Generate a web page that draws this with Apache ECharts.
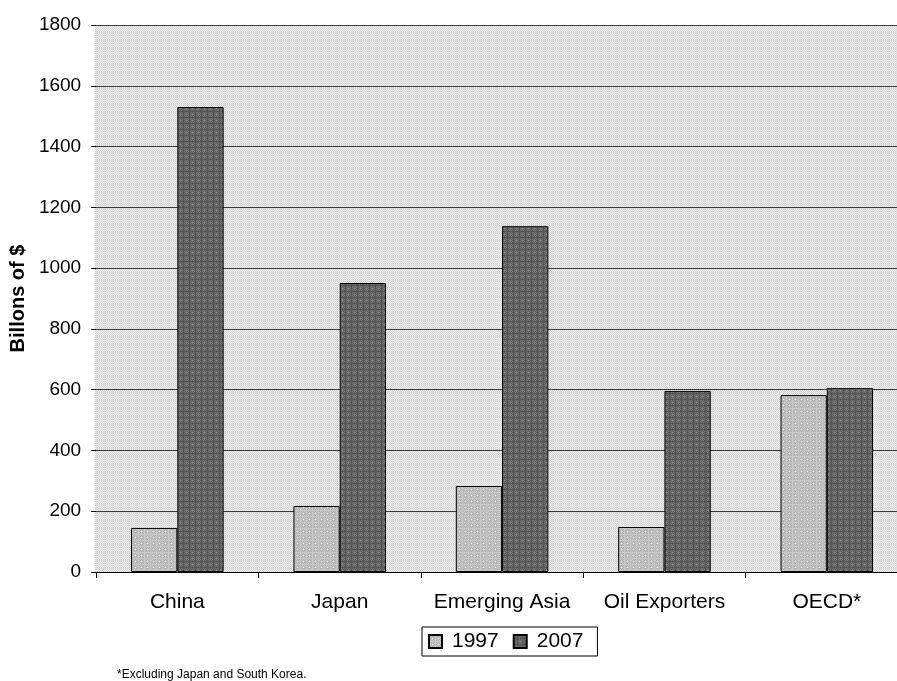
<!DOCTYPE html>
<html>
<head>
<meta charset="utf-8">
<script src="https://cdn.jsdelivr.net/npm/echarts@6/dist/echarts.min.js"></script>
<style>
  html, body { margin: 0; padding: 0; background: #ffffff; overflow: hidden; }
  #chart { width: 908px; height: 681px; }
</style>
</head>
<body>
<div id="chart"></div>
<script>
// Reserve holdings by region, billions of dollars
const categories = ['China', 'Japan', 'Emerging Asia', 'Oil Exporters', 'OECD*'];
const values1997 = [145, 217, 283, 148, 582];
const values2007 = [1530, 951, 1138, 596, 605];
const seriesNames = ['1997', '2007'];
const yTicks = { min: 0, max: 1800, interval: 200 };
const footnote = '*Excluding Japan and South Korea.';

// Small tiled textures for the plot background and the bars
function makePattern(size, draw) {
  const c = document.createElement('canvas');
  c.width = size; c.height = size;
  const ctx = c.getContext('2d');
  draw(ctx, size);
  return { image: c, repeat: 'repeat' };
}
function px(ctx, x, y, v) {
  ctx.fillStyle = 'rgb(' + v + ',' + v + ',' + v + ')';
  ctx.fillRect(x, y, 1, 1);
}

const bgPattern = makePattern(8, (ctx, s) => {
  for (let y = 0; y < s; y++) {
    for (let x = 0; x < s; x++) {
      let v = (x + y) % 2 === 0 ? 204 : 250;
      if (x === 0 || y === 0) v = 224;
      px(ctx, x, y, v);
    }
  }
});

const lightPattern = makePattern(6, (ctx, s) => {
  for (let y = 0; y < s; y++) {
    for (let x = 0; x < s; x++) {
      let v = (x + y) % 2 === 0 ? 178 : 194;
      if (x === 0 || y === 0) v = 200;
      px(ctx, x, y, v);
    }
  }
  px(ctx, 3, 3, 245);
});

const darkPattern = makePattern(6, (ctx, s) => {
  for (let y = 0; y < s; y++) {
    for (let x = 0; x < s; x++) {
      let v = (x + y) % 2 === 0 ? 92 : 118;
      if (x === 3 || y === 3) v = 84;
      if (x === 0 && y === 0) v = 140;
      px(ctx, x, y, v);
    }
  }
});

const gridBox = { left: 95, top: 25, right: 0, height: 547 };

const chart = echarts.init(document.getElementById('chart'), null, { renderer: 'canvas' });
chart.setOption({
  animation: false,
  backgroundColor: '#ffffff',
  textStyle: { fontFamily: 'Liberation Sans, Arial, sans-serif', color: '#000' },
  grid: gridBox,
  graphic: [
    {
      type: 'rect',
      z: -10,
      shape: { x: 95, y: 25, width: 813, height: 547 },
      style: { fill: bgPattern },
      silent: true
    },
    {
      type: 'text',
      left: 117,
      top: 669,
      style: { text: footnote, font: '12px "Liberation Sans", Arial, sans-serif', fill: '#000' }
    }
  ],
  legend: {
    data: seriesNames,
    left: 422,
    top: 627,
    orient: 'horizontal',
    itemWidth: 13,
    itemHeight: 13,
    itemGap: 14,
    padding: [4, 14, 4, 6],
    borderColor: '#000',
    borderWidth: 1,
    icon: 'rect',
    textStyle: { fontSize: 21, color: '#000', padding: [0, 0, 0, 5] }
  },
  xAxis: {
    type: 'category',
    data: categories,
    axisLine: { lineStyle: { color: '#000', width: 1 } },
    axisTick: { show: true, interval: 0, length: 6, lineStyle: { color: '#000' } },
    axisLabel: { interval: 0, fontSize: 21, color: '#000', margin: 20 },
    splitLine: { show: false }
  },
  yAxis: {
    type: 'value',
    min: yTicks.min,
    max: yTicks.max,
    interval: yTicks.interval,
    name: 'Billons of $',
    nameLocation: 'middle',
    nameGap: 60,
    nameRotate: 90,
    nameTextStyle: { fontSize: 20, fontWeight: 'bold', color: '#000' },
    axisLine: { show: false },
    axisTick: { show: true, length: 5, lineStyle: { color: '#000' } },
    axisLabel: { fontSize: 19, color: '#000', margin: 15, formatter: (v) => String(v) },
    splitLine: { show: true, lineStyle: { color: '#3a3a3a', width: 1 } }
  },
  series: [
    {
      name: seriesNames[0],
      type: 'bar',
      data: values1997,
      barGap: '0%',
      barCategoryGap: '43%',
      itemStyle: { color: lightPattern, borderColor: '#000', borderWidth: 1 }
    },
    {
      name: seriesNames[1],
      type: 'bar',
      data: values2007,
      itemStyle: { color: darkPattern, borderColor: '#000', borderWidth: 1 }
    }
  ]
});
</script>
</body>
</html>
